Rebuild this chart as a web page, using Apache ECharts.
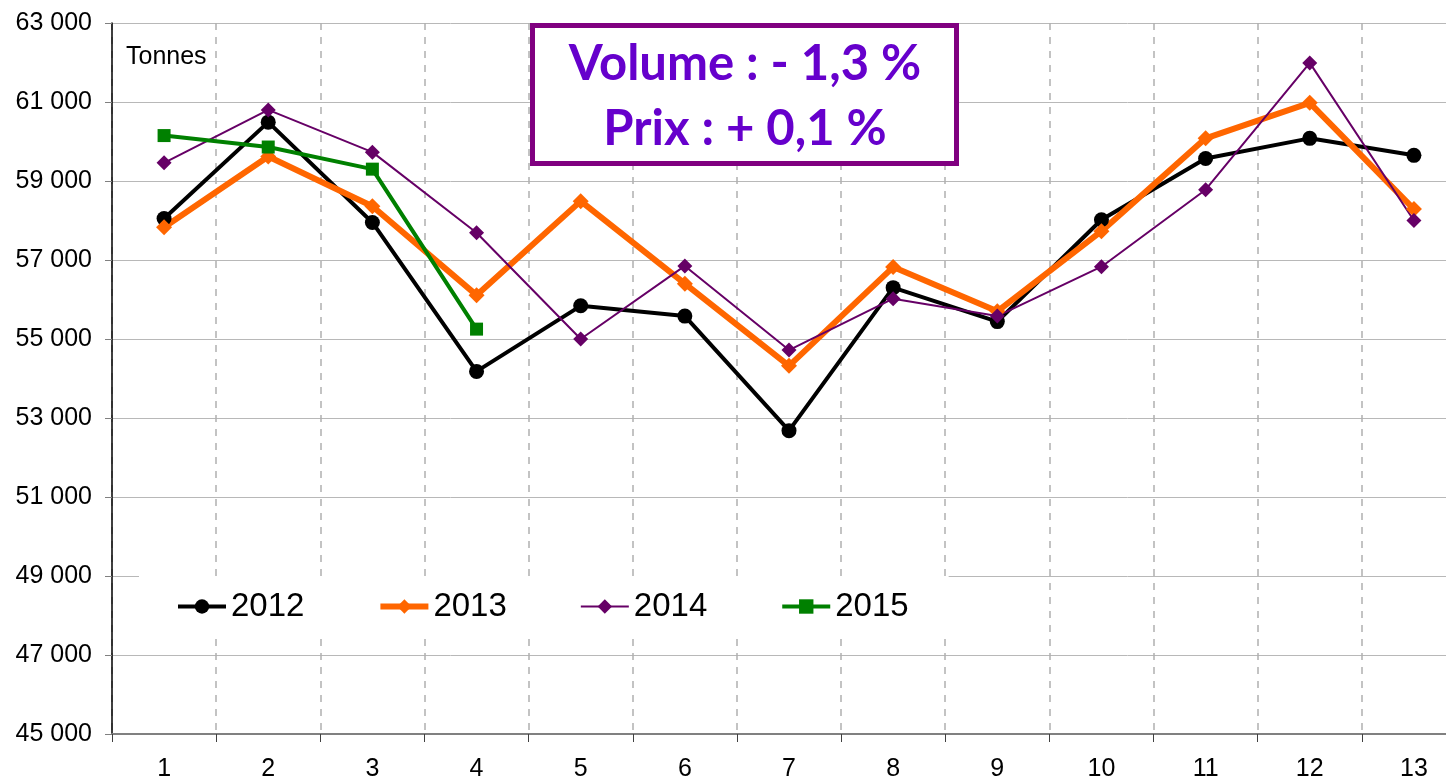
<!DOCTYPE html>
<html>
<head>
<meta charset="utf-8">
<title>Tonnes</title>
<script src="https://cdn.jsdelivr.net/npm/echarts@6/dist/echarts.min.js"></script>
<style>
  html, body { margin: 0; padding: 0; background: #fff; overflow: hidden; }
  /* chart is a bit wider than the window: last category is cut like in the source */
  #chart { width: 1470px; height: 783px; }
</style>
</head>
<body>
<div id="chart"></div>
<script>
// periodes (categories)
var periods = ["1", "2", "3", "4", "5", "6", "7", "8", "9", "10", "11", "12", "13"];

// volumes en tonnes
var v2012 = [58050, 60490, 57950, 54180, 55840, 55580, 52680, 56300, 55440, 58020, 59570, 60080, 59650];
var v2013 = [57830, 59620, 58360, 56110, 58490, 56400, 54320, 56820, 55700, 57730, 60080, 60980, 58290];
var v2014 = [59460, 60800, 59730, 57690, 55000, 56850, 54720, 56020, 55580, 56830, 58780, 61990, 58000];
var v2015 = [60150, 59860, 59300, 55250];

var yMin = 45000;
var yMax = 63000;
var yStep = 2000;

var chart = echarts.init(document.getElementById("chart"));

function fmtThousands(val) {
  return String(val).replace(/\B(?=(\d{3})+(?!\d))/g, " ");
}

chart.setOption({
  animation: false,
  backgroundColor: "#fff",
  textStyle: { fontFamily: "Liberation Sans, Arial, sans-serif" },
  grid: {
    left: 112,
    top: 23,
    width: 1354,
    bottom: 49
  },
  legend: {
    left: 139,
    top: 576,
    padding: [14, 40, 14, 37],
    backgroundColor: "#fff",
    itemWidth: 48,
    itemHeight: 18,
    itemGap: 73,
    textStyle: {
      fontSize: 33,
      color: "#000",
      fontFamily: "Liberation Sans, Arial, sans-serif"
    },
    data: [
      { name: "2012", lineStyle: { width: 4 } },
      { name: "2013", lineStyle: { width: 6 } },
      { name: "2014", lineStyle: { width: 2 } },
      { name: "2015", lineStyle: { width: 4 } }
    ]
  },
  xAxis: {
    type: "category",
    data: periods,
    boundaryGap: true,
    axisLine: { lineStyle: { color: "#808080", width: 2 } },
    axisTick: { show: true, length: 8, lineStyle: { color: "#404040", width: 1 } },
    axisLabel: { fontSize: 25, color: "#000", margin: 23 },
    splitLine: {
      show: true,
      lineStyle: { color: "#b0b0b0", type: [7, 7], width: 1.5 }
    }
  },
  yAxis: {
    type: "value",
    min: yMin,
    max: yMax,
    interval: yStep,
    axisLine: { show: true, lineStyle: { color: "#000", width: 1.5 } },
    axisTick: { show: true, length: 7, lineStyle: { color: "#808080" } },
    axisLabel: {
      fontSize: 25,
      color: "#000",
      margin: 20,
      formatter: fmtThousands
    },
    splitLine: { lineStyle: { color: "#b8b8b8", width: 1 } }
  },
  series: [
    {
      name: "2012",
      type: "line",
      data: v2012,
      symbol: "circle",
      symbolSize: 15,
      lineStyle: { color: "#000", width: 4 },
      itemStyle: { color: "#000" }
    },
    {
      name: "2013",
      type: "line",
      data: v2013,
      symbol: "diamond",
      symbolSize: 16,
      lineStyle: { color: "#ff6600", width: 6 },
      itemStyle: { color: "#ff6600" }
    },
    {
      name: "2014",
      type: "line",
      data: v2014,
      symbol: "diamond",
      symbolSize: 15,
      lineStyle: { color: "#660066", width: 2 },
      itemStyle: { color: "#660066" }
    },
    {
      name: "2015",
      type: "line",
      data: v2015,
      symbol: "rect",
      symbolSize: 13,
      lineStyle: { color: "#008000", width: 4 },
      itemStyle: { color: "#008000" }
    }
  ],
  graphic: [
    {
      type: "text",
      z: 50,
      style: {
        text: "Tonnes",
        x: 126,
        y: 57,
        fill: "#000",
        fontSize: 25,
        fontFamily: "Liberation Sans, Arial, sans-serif",
        textAlign: "left",
        textVerticalAlign: "middle"
      }
    },
    {
      type: "rect",
      z: 100,
      shape: { x: 532.5, y: 25.5, width: 424, height: 138 },
      style: { fill: "#fff", stroke: "#800080", lineWidth: 5 }
    },
    {
      type: "text",
      z: 101,
      style: {
        text: "Volume : - 1,3 %",
        x: 745,
        y: 64,
        fill: "#6600cc",
        fontSize: 49,
        fontWeight: "bold",
        fontFamily: "Lato, sans-serif",
        textAlign: "center",
        textVerticalAlign: "middle"
      }
    },
    {
      type: "text",
      z: 101,
      style: {
        text: "Prix : + 0,1 %",
        x: 745,
        y: 129,
        fill: "#6600cc",
        fontSize: 49,
        fontWeight: "bold",
        fontFamily: "Lato, sans-serif",
        textAlign: "center",
        textVerticalAlign: "middle"
      }
    }
  ]
});
</script>
</body>
</html>
